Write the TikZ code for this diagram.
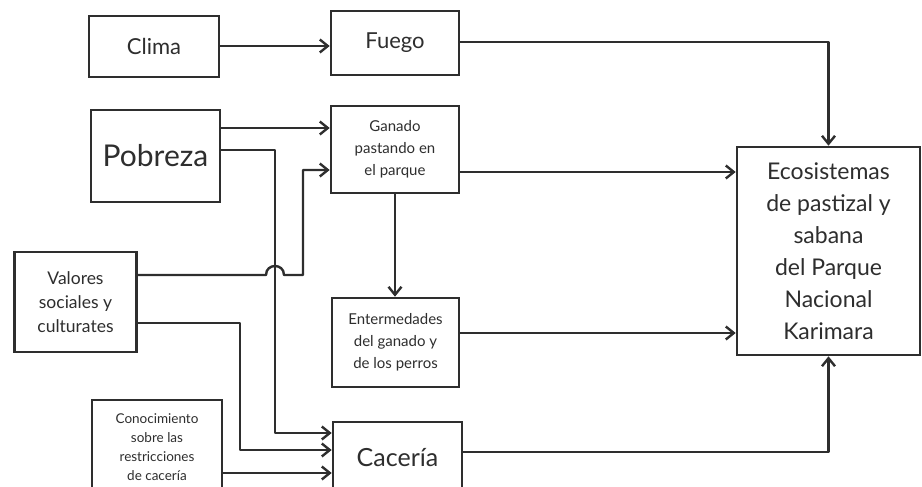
\documentclass[tikz,border=0pt]{standalone}
\usepackage{fontspec}
\setmainfont{Lato}
\usetikzlibrary{arrows.meta}
\definecolor{ink}{HTML}{2E2E2E}
\tikzset{
  box/.style={draw=ink, line width=2.6pt, text=ink, align=center, inner sep=0pt, fill=white},
  conn/.style={draw=ink, line width=2.4pt, line join=round},
  arr/.style={conn, -{Straight Barb[length=8pt,width=13pt,line width=2.4pt]}}
}
\begin{document}
\begin{tikzpicture}[x=1pt,y=-1pt]
\useasboundingbox (0,0) rectangle (922,487);
\clip (0,0) rectangle (922,487);
% boxes
\node[box, minimum width=130pt, minimum height=61pt, font=\fontsize{22}{24}\selectfont] (clima) at (154,46.5) {Clima};
\node[box, minimum width=128pt, minimum height=64pt, font=\fontsize{22}{24}\selectfont] (fuego) at (395,43) {Fuego};
\node[box, minimum width=129pt, minimum height=92pt, font=\fontsize{30}{32}\selectfont] (pobreza) at (155.5,156) {Pobreza};
\node[box, minimum width=128pt, minimum height=87pt, font=\fontsize{15}{22}\selectfont] (ganado) at (395,149.5) {Ganado\\pastando en\\el parque};
\node[box, minimum width=122pt, minimum height=100pt, font=\fontsize{17.5}{24}\selectfont] (valores) at (75.5,302) {Valores\\sociales y\\culturates};
\node[box, minimum width=127pt, minimum height=89pt, font=\fontsize{15}{22}\selectfont] (enter) at (395.5,342.5) {Entermedades\\del ganado y\\de los perros};
\node[box, minimum width=130pt, minimum height=94pt, font=\fontsize{13.5}{19}\selectfont] (conoc) at (157,447) {Conocimiento\\sobre las\\restricciones\\de cacería};
\node[box, minimum width=129pt, minimum height=72pt, font=\fontsize{25}{28}\selectfont] (caceria) at (397.5,458) {Cacería};
\node[box, minimum width=183pt, minimum height=208pt, font=\fontsize{23}{32}\selectfont] (eco) at (828.5,251) {Ecosistemas\\de pastizal y\\sabana\\del Parque\\Nacional\\Karimara};
% connectors
\draw[arr] (clima.east |- 0,46) -- (fuego.west |- 0,46);
\draw[arr] (fuego.east |- 0,42) -| (eco.north);
\draw[arr] (pobreza.east |- 0,128) -- (ganado.west |- 0,128);
\draw[arr] (pobreza.east |- 0,150) -- (275,150) -- (275,433) -- (caceria.west |- 0,433);
\draw[arr] (valores.east |- 0,275) -- (266,275) .. controls (266,263) and (284,263) .. (284,275) -- (303,275) -- (303,170) -- (ganado.west |- 0,170);
\draw[arr] (valores.east |- 0,323) -- (240,323) -- (240,450) -- (caceria.west |- 0,450);
\draw[arr] (conoc.east |- 0,473) -- (caceria.west |- 0,473);
\draw[arr] (ganado.south) -- (ganado.south |- enter.north);
\draw[arr] (ganado.east |- 0,172) -- (eco.west |- 0,172);
\draw[arr] (enter.east |- 0,333) -- (eco.west |- 0,333);
\draw[arr] (caceria.east |- 0,452) -| (eco.south);
\end{tikzpicture}
\end{document}
